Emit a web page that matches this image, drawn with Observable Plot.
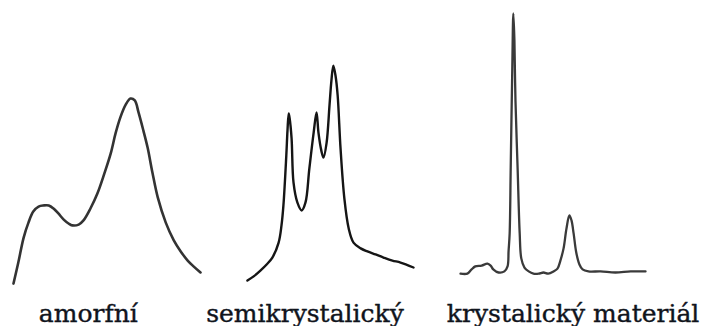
<!DOCTYPE html>
<html>
<head>
<meta charset="utf-8">
<script src="https://cdn.jsdelivr.net/npm/d3@7"></script>
<script src="https://cdn.jsdelivr.net/npm/@observablehq/plot@0.6"></script>
<style>
  html, body { margin: 0; padding: 0; background: #fff; }
  #chart { display: flex; width: 702px; height: 326px; }
  #chart svg { overflow: visible; background: transparent; }
</style>
</head>
<body>
<div id="chart"></div>
<script>
// Labels (Czech)
const labels = ["amorfní", "semikrystalický", "krystalický materiál"];

// Amorphous: 2θ (arbitrary °) and intensity (a.u.)
const amorfX = [5.0, 5.9, 6.9, 7.8, 8.7, 9.7, 10.6, 11.6, 12.5, 13.4, 14.4, 15.3, 16.0, 17.2, 18.1, 19.4, 20.7, 22.0, 23.2, 24.1, 25.0, 26.0, 26.9, 27.7, 28.4, 29.3, 30.1, 31.0, 32.0, 33.5, 35.0, 36.3, 37.6, 38.7, 40.0];
const amorfY = [2.5, 10.1, 19.1, 24.5, 28.5, 30.3, 30.7, 30.7, 29.6, 27.8, 25.6, 24.2, 23.5, 23.8, 25.3, 29.6, 35.0, 42.2, 49.5, 56.7, 62.5, 67.1, 69.3, 68.6, 64.3, 57.8, 51.6, 42.6, 33.6, 24.5, 18.1, 14.1, 10.8, 8.7, 6.5];

// Semicrystalline
const semiX = [5.4, 6.7, 8.1, 9.4, 10.6, 11.9, 12.5, 12.9, 13.5, 13.75, 14.0, 14.2, 14.6, 15.0, 15.8, 16.7, 17.5, 18.3, 19.2, 19.8, 20.2, 20.8, 21.25, 21.9, 22.5, 22.9, 23.3, 23.75, 24.2, 24.8, 25.6, 26.5, 27.5, 29.0, 30.4, 32.1, 33.75, 35.6, 37.3, 40.0];
const semiY = [3.6, 5.1, 7.2, 9.4, 11.9, 17.3, 23.5, 30.7, 48.7, 57.8, 63.9, 62.1, 54.9, 39.0, 31.8, 28.9, 31.8, 44.0, 57.0, 64.3, 57.0, 50.5, 48.0, 53.4, 66.8, 75.8, 81.2, 77.6, 70.4, 51.3, 33.2, 22.4, 17.3, 15.2, 14.1, 13.0, 11.9, 10.8, 10.1, 8.3];

// Crystalline
const krystX = [5.0, 6.3, 7.1, 7.8, 9.0, 10.1, 10.7, 11.2, 12.2, 13.3, 13.9, 14.1, 14.3, 14.5, 14.8, 15.0, 15.2, 15.4, 15.8, 16.2, 16.5, 17.1, 17.9, 18.8, 19.8, 20.7, 21.6, 22.6, 23.35, 23.9, 24.5, 25.05, 25.6, 26.0, 26.4, 26.9, 27.5, 28.1, 29.2, 31.5, 34.3, 37.2, 40.0];
const krystY = [6.1, 6.1, 7.6, 8.7, 9.0, 9.7, 9.0, 7.6, 6.5, 6.9, 8.7, 14.4, 20.6, 44.4, 80.5, 100, 90.3, 68.6, 44.4, 20.6, 11.6, 8.3, 6.9, 6.1, 6.1, 6.5, 6.1, 6.9, 7.9, 10.8, 15.2, 22.4, 27.1, 25.3, 20.6, 13.7, 9.4, 7.6, 6.9, 6.9, 6.5, 6.9, 6.9];

const series = [
  {x: amorfX, y: amorfY, label: labels[0]},
  {x: semiX, y: semiY, label: labels[1]},
  {x: krystX, y: krystY, label: labels[2]}
];

// layout of each panel (svg width, margins, label anchor in data units)
const layout = [
  {width: 200, marginLeft: 13, marginRight: 0, labelAt: 19.0, stroke: "#333", sw: 2.6},
  {width: 240, marginLeft: 45, marginRight: 27, labelAt: 17.4, stroke: "#151515", sw: 2.4},
  {width: 262, marginLeft: 20, marginRight: 57, labelAt: 26.3, stroke: "#3a3a3a", sw: 2.3}
];

const chart = document.getElementById("chart");
series.forEach((s, i) => {
  const L = layout[i];
  const data = s.x.map((x, k) => ({x, y: s.y[k]}));
  const p = Plot.plot({
    width: L.width,
    height: 326,
    marginLeft: L.marginLeft,
    marginRight: L.marginRight,
    marginTop: 13,
    marginBottom: 36,
    x: {domain: [5, 40], axis: null},
    y: {domain: [0, 100], axis: null},
    style: {background: "transparent", overflow: "visible"},
    marks: [
      Plot.line(data, {x: "x", y: "y", curve: "catmull-rom", stroke: L.stroke, strokeWidth: L.sw, strokeLinejoin: "round", strokeLinecap: "round"}),
      Plot.text([s.label], {
        x: [L.labelAt], frameAnchor: "bottom", text: d => d, dy: 31, lineAnchor: "bottom",
        fontFamily: "DejaVu Serif", fontSize: 25, fill: "#10141c", stroke: "#10141c", strokeWidth: 0.4, textAnchor: "middle"
      })
    ]
  });
  chart.appendChild(p);
});
</script>
</body>
</html>
